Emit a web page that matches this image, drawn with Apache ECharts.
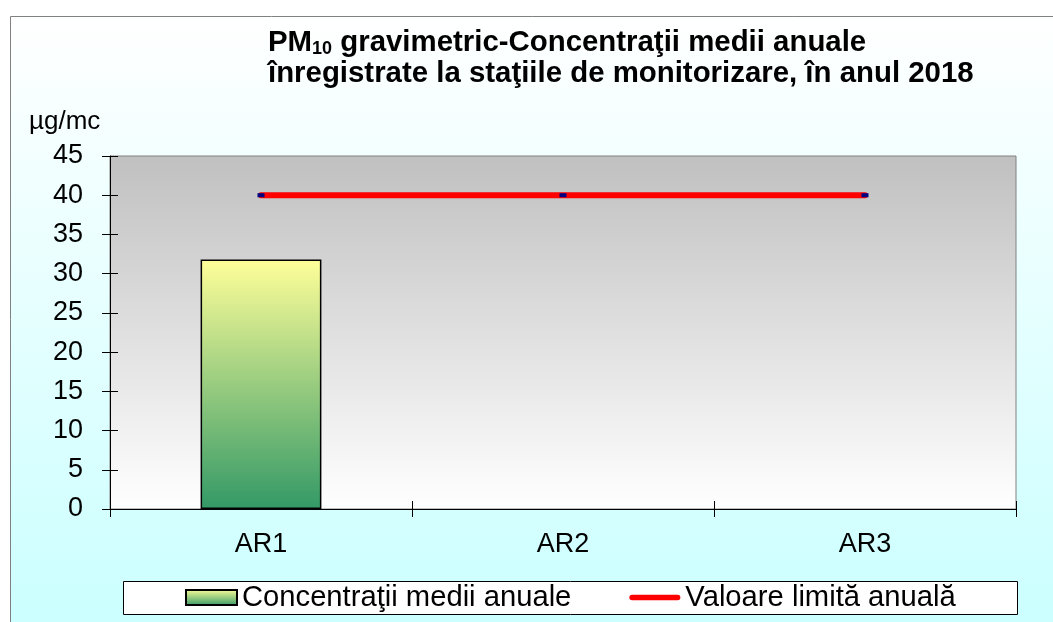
<!DOCTYPE html>
<html>
<head>
<meta charset="utf-8">
<script src="https://cdn.jsdelivr.net/npm/echarts@6/dist/echarts.min.js"></script>
<style>
  html, body { margin: 0; padding: 0; background: #fff; }
  #chart { width: 1053px; height: 622px; }
</style>
</head>
<body>
<div id="chart"></div>
<script>
// statii si valori
var categories = ['AR1', 'AR2', 'AR3']
var concentratii = [31.8, '-', '-']
var valoareLimita = [40, 40, 40]
var seriesNames = ['Concentraţii medii anuale', 'Valoare limită anuală']

var font = 'Arial, "Liberation Sans", sans-serif'

var option = {
  backgroundColor: '#ffffff',
  animation: false,
  title: [{
    left: 263,
    top: 22,
    text: '{b|PM}{s|10}{b| gravimetric-Concentraţii medii anuale}\n{b|înregistrate la staţiile de monitorizare, în anul 2018}',
    textStyle: {
      rich: {
        b: { fontFamily: font, fontSize: 29.4, fontWeight: 'bold', color: '#000', lineHeight: 31 },
        s: { fontFamily: font, fontSize: 18, fontWeight: 'bold', color: '#000', lineHeight: 14, verticalAlign: 'bottom' }
      }
    }
  }, {
    left: 24,
    top: 104,
    text: 'µg/mc',
    textStyle: { fontFamily: font, fontSize: 26, fontWeight: 'normal', color: '#000' }
  }],
  graphic: [{
    type: 'rect',
    z: -100,
    shape: { x: 10.5, y: 16.5, width: 1100, height: 700 },
    style: {
      fill: new echarts.graphic.LinearGradient(0, 0, 0, 1, [
        { offset: 0, color: '#ffffff' },
        { offset: 0.85, color: '#ccffff' },
        { offset: 1, color: '#ccffff' }
      ]),
      stroke: '#808080',
      lineWidth: 1
    }
  }, {
    type: 'rect',
    z: -50,
    shape: { x: 123.5, y: 581.5, width: 894, height: 33 },
    style: { fill: '#ffffff', stroke: '#000000', lineWidth: 1 }
  }],
  legend: {
    left: 185,
    top: 583,
    itemWidth: 51,
    itemHeight: 15,
    itemGap: 58,
    padding: 0,
    data: [{
      name: seriesNames[0],
      icon: 'rect'
    }, {
      name: seriesNames[1],
      icon: 'path://M3,0 L53,0 A3,3 0 0 1 53,6 L3,6 A3,3 0 0 1 3,0 Z',
      itemStyle: { color: '#ff0000' }
    }],
    textStyle: { fontFamily: font, fontSize: 29.2, color: '#000', padding: [0, 0, 0, 0] }
  },
  grid: {
    left: 110,
    right: 37,
    top: 156,
    bottom: 113,
    show: true,
    borderColor: '#808080',
    borderWidth: 1,
    backgroundColor: new echarts.graphic.LinearGradient(0, 0, 0, 1, [
      { offset: 0, color: '#c0c0c0' },
      { offset: 1, color: '#ffffff' }
    ])
  },
  xAxis: [{
    type: 'category',
    data: categories,
    axisLine: { lineStyle: { color: '#000', width: 1 } },
    axisTick: { show: true, inside: false, length: 8, lineStyle: { color: '#000' } },
    axisLabel: { fontFamily: font, fontSize: 27, color: '#000', margin: 22 }
  }, {
    type: 'category',
    data: categories,
    position: 'bottom',
    axisLine: { show: false },
    axisTick: { show: true, inside: true, length: 8, lineStyle: { color: '#000' } },
    axisLabel: { show: false }
  }],
  yAxis: [{
    type: 'value',
    min: 0,
    max: 45,
    interval: 5,
    splitLine: { show: false },
    axisLine: { show: true, lineStyle: { color: '#000', width: 1 } },
    axisTick: { show: true, inside: false, length: 8, lineStyle: { color: '#000' } },
    axisLabel: { fontFamily: font, fontSize: 27, color: '#000', margin: 27 }
  }, {
    type: 'value',
    min: 0,
    max: 45,
    interval: 5,
    position: 'left',
    splitLine: { show: false },
    axisLine: { show: false },
    axisTick: { show: true, inside: true, length: 8, lineStyle: { color: '#000' } },
    axisLabel: { show: false }
  }],
  series: [{
    name: seriesNames[0],
    type: 'bar',
    barWidth: '40%',
    data: concentratii,
    itemStyle: {
      color: new echarts.graphic.LinearGradient(0, 0, 0, 1, [
        { offset: 0, color: '#ffff99' },
        { offset: 1, color: '#339966' }
      ]),
      borderColor: '#000',
      borderWidth: 1.5
    }
  }, {
    name: seriesNames[1],
    type: 'line',
    data: valoareLimita,
    z: 5,
    symbol: 'rect',
    symbolSize: [7, 4],
    itemStyle: { color: '#000080' },
    lineStyle: { color: '#ff0000', width: 6, cap: 'round' }
  }]
}

var chart = echarts.init(document.getElementById('chart'))
chart.setOption(option, true)
</script>
</body>
</html>
